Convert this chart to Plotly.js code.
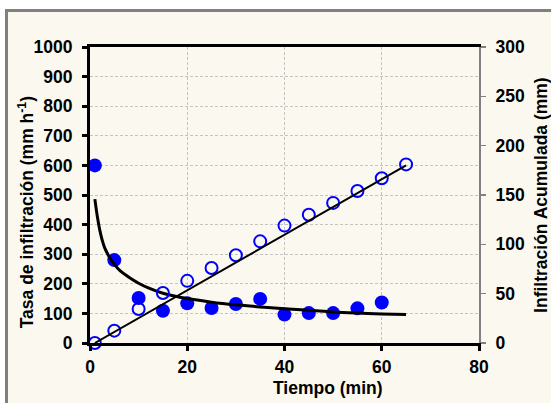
<!DOCTYPE html>
<html>
<head>
<meta charset="utf-8">
<script src="https://cdn.plot.ly/plotly-3.0.1.min.js"></script>
<style>
  html, body { margin: 0; padding: 0; background: #ffffff; overflow: hidden; width: 551px; height: 403px; }
  #frame { position: absolute; left: 5px; top: 9px; width: 600px; height: 450px; border: 3px solid #808080; background: #fbf9ef; }
  #chart { position: absolute; left: 0; top: 0; width: 551px; height: 403px; }
</style>
</head>
<body>
<div id="frame"></div>
<div id="chart"></div>
<script>
// Infiltration rate (mm/h) - measured points
const timeRate = [1, 5, 10, 15, 20, 25, 30, 35, 40, 45, 50, 55, 60];
const rateValues = [600, 280, 152, 109, 134, 118, 132, 149, 96, 101, 101, 117, 137];

// Fitted rate curve
const curveTime = [1, 1.5, 2, 2.5, 3, 4, 5, 6, 8, 10, 12, 15, 20, 25, 30, 35, 40, 45, 50, 55, 60, 65];
const curveValues = [486, 428, 382, 348, 322, 290, 266, 247, 222, 202, 186, 168, 150, 138, 129, 122, 116, 111, 105, 101, 98, 96];

// Cumulative infiltration (mm) - measured points
const timeCum = [1, 5, 10, 15, 20, 25, 30, 35, 40, 45, 50, 55, 60, 65];
const cumValues = [0, 12.5, 34.5, 50.7, 63, 76, 89, 103, 119, 130, 142, 154, 167, 181];

// Linear fit of cumulative infiltration
const fitTime = [1, 65];
const fitValues = [0, 180];

// Tick labels
const xTicks = [0, 20, 40, 60, 80];
const yTicks = [0, 100, 200, 300, 400, 500, 600, 700, 800, 900, 1000];
const y2Ticks = [0, 50, 100, 150, 200, 250, 300];

// Titles
const xTitle = 'Tiempo (min)';
const yTitle = 'Tasa de infiltración (mm h<sup>-1</sup>)';
const y2Title = 'Infiltración Acumulada (mm)';

const FONT = 'Liberation Sans, Arial, Helvetica, sans-serif';
const BLUE = '#0000ff';

const traces = [
  {
    x: timeRate, y: rateValues, type: 'scatter', mode: 'markers',
    marker: { color: BLUE, size: 14, line: { width: 0 } },
    cliponaxis: false, showlegend: false, yaxis: 'y'
  },
  {
    x: timeCum, y: cumValues, type: 'scatter', mode: 'markers',
    marker: { color: 'rgba(0,0,0,0)', size: 12, symbol: 'circle', line: { color: BLUE, width: 2 } },
    cliponaxis: false, showlegend: false, yaxis: 'y2'
  },
  {
    x: curveTime, y: curveValues, type: 'scatter', mode: 'lines',
    line: { color: '#000000', width: 3, shape: 'spline' },
    cliponaxis: false, showlegend: false, yaxis: 'y'
  },
  {
    x: fitTime, y: fitValues, type: 'scatter', mode: 'lines',
    line: { color: '#000000', width: 2 },
    cliponaxis: false, showlegend: false, yaxis: 'y2'
  }
];

const tickFont = { family: FONT, size: 17.5, color: '#000000', weight: 'bold' };
const titleFont = { family: FONT, size: 17.5, color: '#000000', weight: 'bold' };

const layout = {
  width: 551, height: 403,
  paper_bgcolor: 'rgba(0,0,0,0)',
  plot_bgcolor: 'rgba(0,0,0,0)',
  margin: { l: 90, r: 72, t: 47, b: 60, pad: 0 },
  showlegend: false,
  xaxis: {
    range: [0, 80], tickvals: xTicks, ticktext: xTicks.map(String),
    showline: true, linecolor: '#000000', linewidth: 3, mirror: true,
    ticks: 'outside', ticklen: 5, tickwidth: 3, tickcolor: '#000000',
    ticklabelstandoff: 1,
    showgrid: true, gridcolor: '#c4c4c4', gridwidth: 1, griddash: '3px,2px',
    zeroline: false, tickfont: tickFont
  },
  yaxis: {
    range: [0, 1000], tickvals: yTicks, ticktext: yTicks.map(String),
    showline: true, linecolor: '#000000', linewidth: 3,
    ticks: 'outside', ticklen: 5, tickwidth: 3, tickcolor: '#000000',
    ticklabelstandoff: 6,
    showgrid: true, gridcolor: '#c4c4c4', gridwidth: 1, griddash: '3px,2px',
    zeroline: false, tickfont: tickFont
  },
  yaxis2: {
    range: [0, 300], tickvals: y2Ticks, ticktext: y2Ticks.map(String),
    overlaying: 'y', side: 'right',
    showline: true, linecolor: '#808080', linewidth: 2,
    ticks: 'outside', ticklen: 5, tickwidth: 1.5, tickcolor: '#808080',
    ticklabelstandoff: 6,
    showgrid: false, zeroline: false, tickfont: tickFont
  },
  annotations: [
    { text: xTitle, xref: 'paper', yref: 'paper', x: 0.613, y: -0.152,
      xanchor: 'center', yanchor: 'middle', showarrow: false, font: titleFont },
    { text: yTitle, xref: 'paper', yref: 'paper', x: -0.166, y: 0.443, textangle: -90,
      xanchor: 'center', yanchor: 'middle', showarrow: false, font: titleFont },
    { text: y2Title, xref: 'paper', yref: 'paper', x: 1.161, y: 0.499, textangle: -90,
      xanchor: 'center', yanchor: 'middle', showarrow: false, font: titleFont }
  ]
};

Plotly.newPlot('chart', traces, layout, { displayModeBar: false, staticPlot: true });
</script>
</body>
</html>
